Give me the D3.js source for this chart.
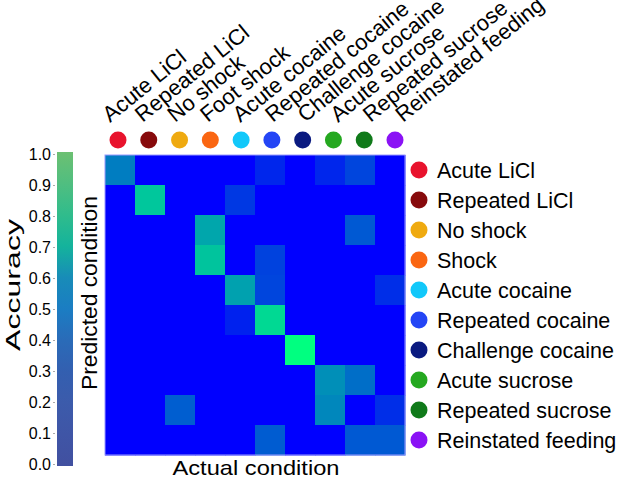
<!DOCTYPE html>
<html>
<head>
<meta charset="utf-8">
<script src="https://cdn.jsdelivr.net/npm/d3@7"></script>
<style>
    body { margin: 0; background: white; }
    text { font-family: "Liberation Sans", Arial, sans-serif; fill: black; }
</style>
</head>
<body>
<div id="wrapper"></div>
<script>

// column labels (actual condition), legend labels (predicted condition)
const actualLabels = ["Acute LiCl", "Repeated LiCl", "No shock", "Foot shock", "Acute cocaine",
    "Repeated cocaine", "Challenge cocaine", "Acute sucrose", "Repeated sucrose", "Reinstated feeding"]
const legendLabels = ["Acute LiCl", "Repeated LiCl", "No shock", "Shock", "Acute cocaine",
    "Repeated cocaine", "Challenge cocaine", "Acute sucrose", "Repeated sucrose", "Reinstated feeding"]
const conditionColors = ["#e8132d", "#870a0c", "#efaa10", "#fa6612", "#12c8fa",
    "#2445f5", "#0a1a80", "#25a820", "#107a1a", "#8a12f5"]

// rows = predicted condition, columns = actual condition
const accuracy = [
    [0.49, 0, 0, 0, 0, 0.15, 0, 0.15, 0.27, 0],
    [0, 0.78, 0, 0, 0.22, 0, 0, 0, 0, 0],
    [0, 0, 0, 0.65, 0, 0, 0, 0, 0.35, 0],
    [0, 0, 0, 0.77, 0, 0.26, 0, 0, 0, 0],
    [0, 0, 0, 0, 0.63, 0.27, 0, 0, 0, 0.18],
    [0, 0, 0, 0, 0.13, 0.85, 0, 0, 0, 0],
    [0, 0, 0, 0, 0, 0, 1.0, 0, 0, 0],
    [0, 0, 0, 0, 0, 0, 0, 0.56, 0.43, 0],
    [0, 0, 0.37, 0, 0, 0, 0, 0.53, 0, 0.18],
    [0, 0, 0, 0, 0, 0.36, 0, 0, 0.35, 0.35],
]

const colorbarTicks = [0, 0.1, 0.2, 0.3, 0.4, 0.5, 0.6, 0.7, 0.8, 0.9, 1.0]
const colorbarColors = ["#4150a0", "#3f55a6", "#3c5bab", "#335fb0", "#2a6bb8",
    "#1b7dc3", "#188cb8", "#14b39c", "#30bc8c", "#50be80", "#6cc072"]

async function drawChart() {

    /* 1. Chart dimensions */
    let dimensions = {
        width: 617,
        height: 478,
        matrix: { left: 105, top: 155, size: 300 },
    }

    /* 2. Draw canvas */
    const wrapper = d3.select("#wrapper")
        .append("svg")
        .attr("width", dimensions.width)
        .attr("height", dimensions.height)

    /* 3. Scales */
    const idx = d3.range(actualLabels.length)

    const xScale = d3.scaleBand()
        .domain(idx)
        .range([dimensions.matrix.left, dimensions.matrix.left + dimensions.matrix.size])

    const yScale = d3.scaleBand()
        .domain(idx)
        .range([dimensions.matrix.top, dimensions.matrix.top + dimensions.matrix.size])

    // matrix cells use a blue -> spring green ramp ("winter")
    const cellColor = d3.scaleLinear()
        .domain([0, 1])
        .range(["#0000ff", "#00ff80"])

    const dotScale = d3.scalePoint().domain(idx).range([118, 395])
    const labelScale = d3.scalePoint().domain(idx).range([110, 403])

    /* 4. Draw data */
    const cells = accuracy.flatMap((row, r) => row.map((v, c) => ({ r, c, v })))

    wrapper.append("g")
        .selectAll("rect")
        .data(cells)
        .enter().append("rect")
        .attr("x", d => xScale(d.c))
        .attr("y", d => yScale(d.r))
        .attr("width", xScale.bandwidth() + 0.5)
        .attr("height", yScale.bandwidth() + 0.5)
        .attr("fill", d => cellColor(d.v))

    wrapper.append("rect")
        .attr("x", dimensions.matrix.left)
        .attr("y", dimensions.matrix.top)
        .attr("width", dimensions.matrix.size)
        .attr("height", dimensions.matrix.size)
        .attr("fill", "none")
        .attr("stroke", "#9a9aff")
        .attr("stroke-width", 1)

    /* 5. Peripherals */

    // top: dots + rotated labels
    wrapper.append("g").selectAll("circle")
        .data(idx)
        .enter().append("circle")
        .attr("cx", d => dotScale(d))
        .attr("cy", 140)
        .attr("r", 8.5)
        .attr("fill", d => conditionColors[d])

    wrapper.append("g").selectAll("text")
        .data(idx)
        .enter().append("text")
        .attr("transform", d => `translate(${labelScale(d)},123) rotate(-39)`)
        .style("font-size", "22px")
        .text(d => actualLabels[d])

    // legend on the right
    const legend = wrapper.append("g").selectAll("g")
        .data(idx)
        .enter().append("g")
        .attr("transform", d => `translate(0,${yScale(d) + yScale.bandwidth() / 2})`)

    legend.append("circle")
        .attr("cx", 419)
        .attr("r", 8.5)
        .attr("fill", d => conditionColors[d])

    legend.append("text")
        .attr("x", 437)
        .attr("dy", "0.36em")
        .style("font-size", "21.5px")
        .text(d => legendLabels[d])

    // colorbar
    const cbScale = d3.scaleLinear()
        .domain([0, 1])
        .range([464, 154])

    const gradient = wrapper.append("defs").append("linearGradient")
        .attr("id", "cbGradient")
        .attr("x1", 0).attr("y1", 1)
        .attr("x2", 0).attr("y2", 0)

    gradient.selectAll("stop")
        .data(colorbarTicks)
        .enter().append("stop")
        .attr("offset", d => d)
        .attr("stop-color", (d, i) => colorbarColors[i])

    wrapper.append("rect")
        .attr("x", 57)
        .attr("y", cbScale(1) - 2)
        .attr("width", 16)
        .attr("height", cbScale(0) - cbScale(1) + 4)
        .attr("fill", "url(#cbGradient)")

    const cbAxis = wrapper.append("g")
        .attr("transform", "translate(55,0)")
        .call(d3.axisLeft(cbScale)
            .tickValues(colorbarTicks)
            .tickFormat(d3.format(".1f"))
            .tickSize(2)
            .tickPadding(2))

    cbAxis.select(".domain").remove()
    cbAxis.selectAll("line").attr("stroke", "#aaa")
    cbAxis.selectAll("text")
        .style("font-size", "16px")
        .style("font-family", "'Liberation Sans', Arial, sans-serif")

    // axis titles
    wrapper.append("text")
        .attr("transform", "translate(20,285) rotate(-90)")
        .attr("text-anchor", "middle")
        .attr("textLength", 132)
        .attr("lengthAdjust", "spacingAndGlyphs")
        .style("font-size", "21px")
        .text("Accuracy")

    wrapper.append("text")
        .attr("transform", "translate(97,293) rotate(-90)")
        .attr("text-anchor", "middle")
        .attr("textLength", 194)
        .attr("lengthAdjust", "spacingAndGlyphs")
        .style("font-size", "22px")
        .text("Predicted condition")

    wrapper.append("text")
        .attr("x", 256)
        .attr("y", 475)
        .attr("text-anchor", "middle")
        .attr("textLength", 167)
        .attr("lengthAdjust", "spacingAndGlyphs")
        .style("font-size", "21px")
        .text("Actual condition")
}
drawChart()

</script>
</body>
</html>
